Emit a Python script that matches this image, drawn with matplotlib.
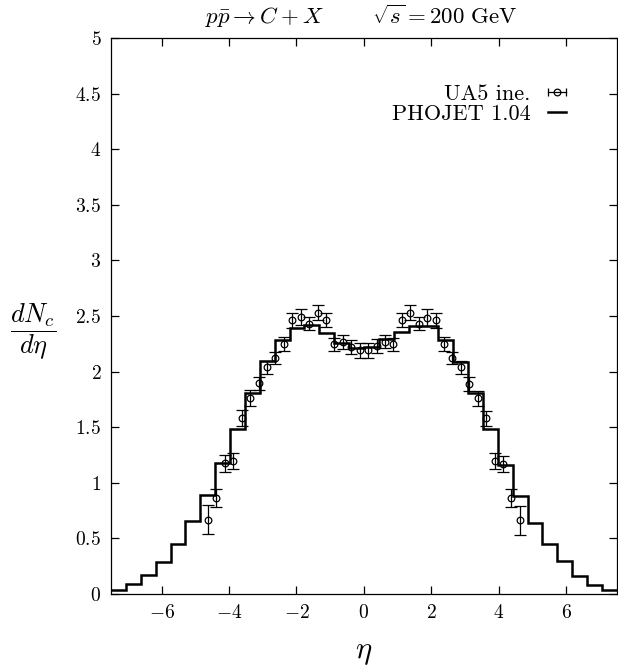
import matplotlib
matplotlib.use("Agg")
import matplotlib.pyplot as plt
from matplotlib.lines import Line2D
from matplotlib.legend_handler import HandlerTuple, HandlerLine2D
from matplotlib.ticker import FuncFormatter, MultipleLocator
import numpy as np

plt.rcParams['font.family'] = 'serif'
plt.rcParams['font.serif'] = ['cmr10']
plt.rcParams['mathtext.fontset'] = 'cm'
plt.rcParams['axes.formatter.use_mathtext'] = True

# PHOJET 1.04 prediction, 34 bins in eta between -7.5 and 7.5
bin_edges = np.linspace(-7.5, 7.5, 35)
phojet = [0.036, 0.087, 0.17, 0.29, 0.45, 0.66, 0.89, 1.175, 1.485, 1.805, 2.10,
          2.28, 2.395, 2.42, 2.35, 2.255, 2.21,
          2.22, 2.29, 2.36, 2.41, 2.41, 2.28, 2.09, 1.81, 1.486, 1.16,
          0.88, 0.64, 0.45, 0.30, 0.165, 0.08, 0.036]

# UA5 inelastic data (symmetrised)
ua5_eta = [-4.625, -4.375, -4.125, -3.875, -3.625, -3.375, -3.125, -2.875, -2.625,
           -2.375, -2.125, -1.875, -1.625, -1.375, -1.125, -0.875, -0.625, -0.375,
           -0.125, 0.125, 0.375, 0.625, 0.875, 1.125, 1.375, 1.625, 1.875, 2.125,
           2.375, 2.625, 2.875, 3.125, 3.375, 3.625, 3.875, 4.125, 4.375, 4.625]
ua5_val = [0.667, 0.866, 1.175, 1.196, 1.585, 1.765, 1.895, 2.04, 2.12,
           2.25, 2.46, 2.49, 2.43, 2.53, 2.465, 2.245, 2.265, 2.22,
           2.19, 2.19, 2.23, 2.27, 2.245, 2.465, 2.53, 2.43, 2.485, 2.46,
           2.25, 2.12, 2.04, 1.89, 1.76, 1.58, 1.196, 1.17, 0.866, 0.665]
ua5_err = [0.13, 0.08, 0.075, 0.07, 0.07, 0.07, 0.06, 0.06, 0.055,
           0.065, 0.065, 0.075, 0.06, 0.07, 0.065, 0.06, 0.06, 0.065,
           0.07, 0.07, 0.065, 0.06, 0.06, 0.065, 0.07, 0.06, 0.075, 0.065,
           0.065, 0.055, 0.06, 0.06, 0.07, 0.07, 0.07, 0.075, 0.08, 0.13]

fig = plt.figure(figsize=(6.18, 6.66), dpi=100)
ax = fig.add_axes([0.1796, 0.108, 0.8186, 0.835])

ax.stairs(phojet, bin_edges, baseline=None, color='k', lw=1.8, zorder=2)
ax.errorbar(ua5_eta, ua5_val, yerr=ua5_err, fmt='o', ms=4.8, mfc='none', mec='k',
            mew=0.9, color='k', ecolor='k', elinewidth=0.9, capsize=4, capthick=0.9,
            zorder=3)

ax.set_xlim(-7.5, 7.5)
ax.set_ylim(0, 5)
ax.xaxis.set_major_locator(MultipleLocator(2))
ax.yaxis.set_major_locator(MultipleLocator(0.5))
ax.xaxis.set_major_formatter(FuncFormatter(lambda v, p: r'$%g$' % v))
ax.yaxis.set_major_formatter(FuncFormatter(lambda v, p: r'$%g$' % v))
ax.tick_params(direction='in', length=6, width=0.9, top=True, right=True,
               labelsize=14, pad=7)
for s in ax.spines.values():
    s.set_linewidth(0.9)

ax.set_xlabel(r'$\eta$', fontsize=22, labelpad=13)
ax.set_ylabel(r'$\dfrac{dN_c}{d\eta}$', fontsize=19, rotation=0, ha='center', va='center')
ax.yaxis.set_label_coords(-0.153, 0.472)

fig.text(0.584, 0.976, r'$p\bar{p} \rightarrow C + X\qquad\;\;\sqrt{s} = 200\ \mathrm{GeV}$',
         ha='center', va='center', fontsize=16.5)

# gnuplot-like key: text on the left, sample on the right
cap_line = Line2D([], [], color='k', lw=0.9, marker='|', ms=6, mew=0.9)
circ = Line2D([], [], ls='none', marker='o', ms=4.8, mfc='none', mec='k', mew=0.9)
pho_line = Line2D([], [], color='k', lw=1.8)
ax.legend([(cap_line, circ), pho_line], ['UA5 ine.', 'PHOJET 1.04'],
          loc='upper right', bbox_to_anchor=(0.913, 0.917), frameon=False,
          markerfirst=False, fontsize=16, numpoints=2, handlelength=1.4,
          handletextpad=0.5, labelspacing=0.02, borderpad=0, borderaxespad=0,
          handler_map={tuple: HandlerTuple(ndivide=1, pad=0),
                       circ: HandlerLine2D(numpoints=1)})

fig.savefig('out.png', dpi=100)
